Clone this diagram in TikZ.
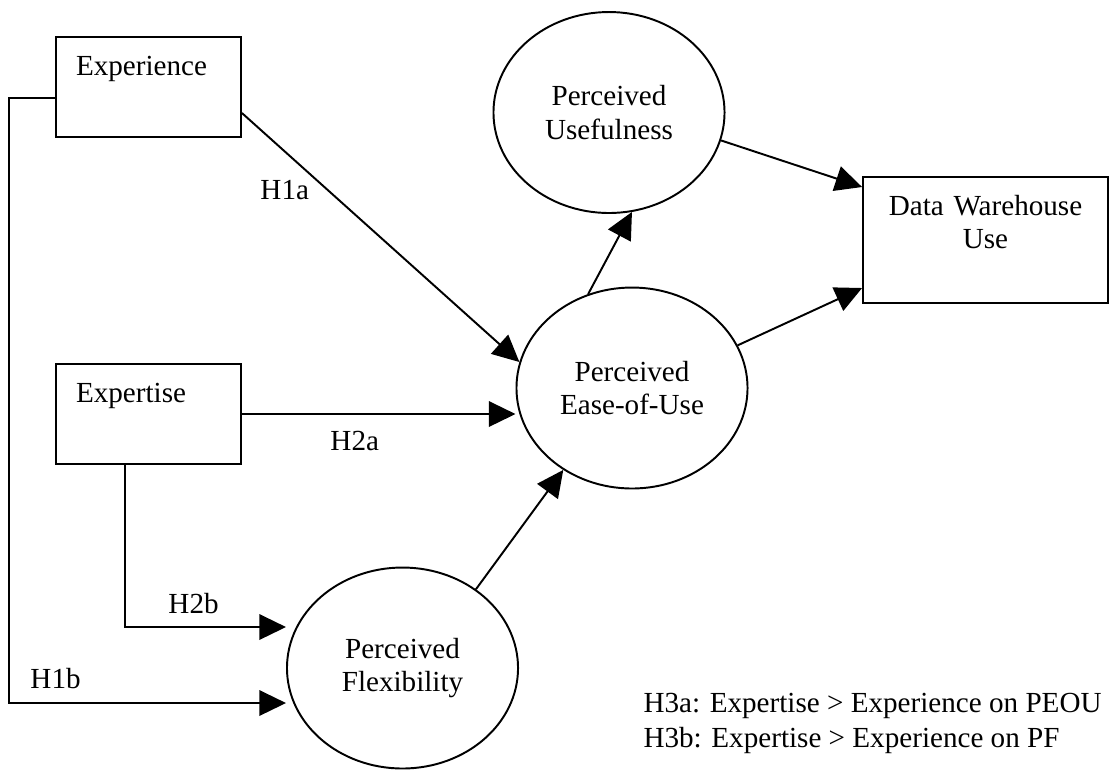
\documentclass[tikz,border=0pt]{standalone}
\usepackage{fontspec}
\setmainfont{Liberation Serif}
\usetikzlibrary{arrows.meta,shapes.geometric}

\begin{document}
\begin{tikzpicture}[x=0.412pt,y=-0.412pt,
    font=\fontsize{12pt}{13.8pt}\selectfont,
    conn/.style={-{Triangle[length=11pt,width=10.5pt]}, line width=0.8pt},
    varbox/.style={draw, line width=0.8pt, rectangle, align=left, text width=59.7pt,
        inner xsep=8.24pt, inner ysep=0pt, text height=15.66pt, text depth=25.54pt},
    construct/.style={draw, line width=0.8pt, ellipse, minimum width=95.2pt,
        minimum height=82.8pt, align=center, inner sep=0pt},
    hyp/.style={anchor=base west, inner sep=0pt}]
    \useasboundingbox (0,0) rectangle (1109,769);

    \coordinate (ExperienceC) at (148.5,87);
    \coordinate (ExpertiseC) at (148.5,414);
    \coordinate (UsefulnessC) at (609,112.5);
    \coordinate (EaseOfUseC) at (632,388);
    \coordinate (FlexibilityC) at (402.5,668);
    \coordinate (DWUseC) at (985.5,240);

    \node[varbox] (Experience) at (ExperienceC) {Experience};
    \node[varbox] (Expertise) at (ExpertiseC) {Expertise};
    \node[varbox, align=center, text width=90pt, inner xsep=5.45pt, text depth=36.26pt]
        (DWUse) at (DWUseC) {Data Warehouse\\Use};
    \node[construct] (Usefulness) at (UsefulnessC) {Perceived\\Usefulness};
    \node[construct] (EaseOfUse) at (EaseOfUseC) {Perceived\\Ease-of-Use};
    \node[construct] (Flexibility) at (FlexibilityC) {Perceived\\Flexibility};

    \node[hyp] (H1a) at (260,199) {H1a};
    \node[hyp] (H2a) at (330,450) {H2a};
    \node[hyp] (H2b) at (168,613) {H2b};
    \node[hyp] (H1b) at (30,688) {H1b};
    \node[anchor=north west, inner sep=0pt, align=left, font=\fontsize{12pt}{14.4pt}\selectfont]
        (Legend) at (643,693) {H3a: Expertise > Experience on PEOU\\H3b: Expertise > Experience on PF};

    \draw[conn] ([shift={(0,26)}]Experience.east) -- (EaseOfUse.167);
    \draw[conn] (Expertise.east) -- (Expertise.east -| EaseOfUse.west);
    \draw[conn] ([shift={(0,11)}]Experience.west) -- ++(-46,0) |- ([shift={(0,35)}]Flexibility.west);
    \draw[conn] ([shift={(-23.5,0)}]Expertise.south) |- ([shift={(0,-41)}]Flexibility.west);
    \draw[conn] (Flexibility.47) -- (EaseOfUse.230);
    \draw[conn] (EaseOfUse.115) -- (Usefulness.283);
    \draw[conn] (Usefulness.346) -- ([shift={(0,-53)}]DWUse.west);
    \draw[conn] (EaseOfUse.22) -- ([shift={(0,48)}]DWUse.west);
\end{tikzpicture}
\end{document}
